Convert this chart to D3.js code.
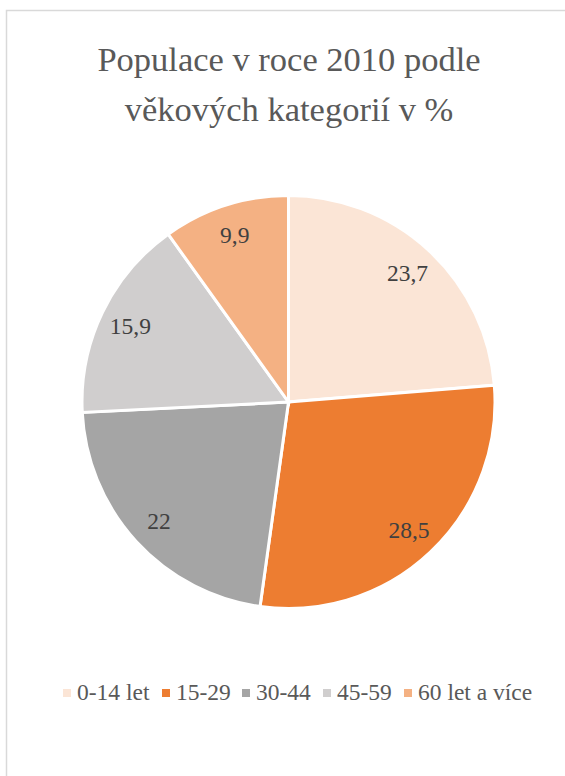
<!DOCTYPE html>
<html>
<head>
<meta charset="utf-8">
<script src="https://cdn.jsdelivr.net/npm/d3@7"></script>
</head>
<body>
<svg id="chart" width="565" height="776" style="position:absolute;left:0;top:0"></svg>
<script>
// ------------------------------------------
//  Data
// ------------------------------------------
const titleLines = ["Populace v roce 2010 podle", "věkových kategorií v %"]
const categories = ["0-14 let", "15-29", "30-44", "45-59", "60 let a více"]
const values = [23.7, 28.5, 22, 15.9, 9.9]
const colors = ["#FBE5D6", "#ED7D31", "#A5A5A5", "#D0CECE", "#F4B183"]

// ------------------------------------------
//  Chart
// ------------------------------------------
const svg = d3.select("#chart")

// outer chart frame
svg.append("rect")
    .attr("x", 6.5).attr("y", 10.5)
    .attr("width", 700).attr("height", 900)
    .attr("fill", "#fff")
    .attr("stroke", "#D9D9D9")
    .attr("stroke-width", 1.5)

svg.append("g").selectAll("text")
    .data(titleLines)
    .enter().append("text")
    .attr("x", 289)
    .attr("y", (d, i) => 71 + i * 50)
    .attr("text-anchor", "middle")
    .attr("font-family", "Liberation Serif")
    .attr("fill", "#595959")
    .attr("font-size", 34.5)
    .text(d => d)

const cx = 288.5, cy = 402, radius = 206.5
const g = svg.append("g").attr("transform", `translate(${cx},${cy})`)

const pie = d3.pie().sort(null).value(d => d)
const arcs = pie(values)
const arc = d3.arc().innerRadius(0).outerRadius(radius)
const labelArc = d3.arc().innerRadius(radius * 0.85).outerRadius(radius * 0.85)

g.selectAll(".slice")
    .data(arcs)
    .enter().append("path")
    .attr("class", "slice")
    .attr("d", arc)
    .attr("fill", (d, i) => colors[i])
    .attr("stroke", "#fff")
    .attr("stroke-width", 3)

const fmt = v => String(v).replace(".", ",")

g.selectAll(".label")
    .data(arcs)
    .enter().append("text")
    .attr("class", "label")
    .attr("transform", d => `translate(${labelArc.centroid(d)})`)
    .attr("dy", "0.35em")
    .attr("text-anchor", "middle")
    .attr("font-family", "Liberation Serif")
    .attr("fill", "#404040")
    .attr("font-size", 23.5)
    .text(d => fmt(d.data))

// ------------------------------------------
//  Legend (item offsets follow the text widths)
// ------------------------------------------
const legendX = [63, 162, 242, 323, 404]
const legend = svg.append("g").attr("transform", "translate(0,700)")
const items = legend.selectAll(".item")
    .data(categories)
    .enter().append("g")
    .attr("class", "item")
    .attr("transform", (d, i) => `translate(${legendX[i]},0)`)

items.append("rect")
    .attr("x", 0).attr("y", -11)
    .attr("width", 8).attr("height", 8)
    .attr("fill", (d, i) => colors[i])

items.append("text")
    .attr("x", 14)
    .attr("font-family", "Liberation Serif")
    .attr("fill", "#595959")
    .attr("font-size", 23.5)
    .text(d => d)
</script>
</body>
</html>
